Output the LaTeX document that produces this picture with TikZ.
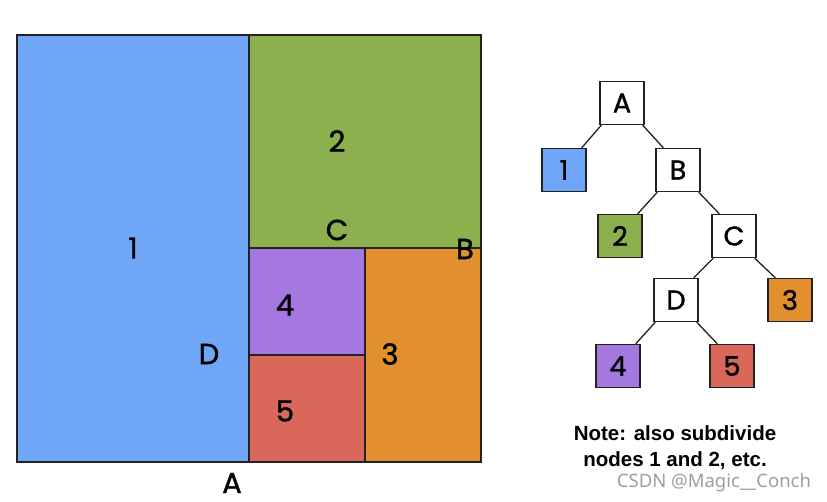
\documentclass[tikz,border=0pt]{standalone}
\usepackage{fontspec}
\setmainfont{Poppins}
\newfontfamily\lblfont{Poppins}[FakeBold=1.3]
\newfontfamily\notefont{Liberation Sans}
\newfontfamily\wmfont{Noto Sans}
\definecolor{cblue}{HTML}{6FA6F8}
\definecolor{cgreen}{HTML}{8BB04D}
\definecolor{cpurple}{HTML}{A577E0}
\definecolor{cred}{HTML}{D9675A}
\definecolor{corange}{HTML}{E2902E}
\definecolor{cline}{HTML}{222222}
\begin{document}
\begin{tikzpicture}[x=1pt,y=-1pt,
  region/.style={draw=cline,line width=1.3pt},
  lbl/.style={font=\lblfont\fontsize{29}{32}\selectfont,text=black,inner sep=0pt},
  tnode/.style={draw=cline,line width=1.3pt,minimum width=44pt,minimum height=43pt,inner sep=0pt,font=\lblfont\fontsize{27}{30}\selectfont},
  tedge/.style={draw=cline,line width=1.3pt}]
\useasboundingbox[fill=white] (0,0) rectangle (827,502);
% regions
\fill[cblue] (17,35) rectangle (249,462);
\fill[cgreen] (249,35) rectangle (481,248);
\fill[cpurple] (249,248) rectangle (365,355);
\fill[cred] (249,355) rectangle (365,462);
\fill[corange] (365,248) rectangle (481,462);
\draw[region] (17,35) rectangle (481,462);
\draw[region] (249,35) -- (249,462);
\draw[region] (249,248) -- (481,248);
\draw[region] (365,248) -- (365,462);
\draw[region] (249,355) -- (365,355);
% region labels
\node[lbl] (l1) at (133,248) {1};
\node[lbl] (l2) at (337,141) {2};
\node[lbl] (lC) at (337,230) {C};
\node[lbl] (lB) at (465,249) {B};
\node[lbl] (l4) at (285,305) {4};
\node[lbl] (lD) at (209,354) {D};
\node[lbl] (l3) at (390,354) {3};
\node[lbl] (l5) at (285,411) {5};
\node[lbl] (lA) at (232,483) {A};
% tree
\node[tnode,fill=white] (tA) at (622,103) {A};
\node[tnode,fill=cblue] (t1) at (564,170) {1};
\node[tnode,fill=white] (tB) at (678,170) {B};
\node[tnode,fill=cgreen] (t2) at (620,236) {2};
\node[tnode,fill=white] (tC) at (734,236) {C};
\node[tnode,fill=white] (tD) at (676,300) {D};
\node[tnode,fill=corange] (t3) at (790,300) {3};
\node[tnode,fill=cpurple] (t4) at (618,366) {4};
\node[tnode,fill=cred] (t5) at (732,366) {5};
\draw[tedge] ([xshift=2pt]tA.south west) -- ([xshift=-5pt]t1.north east);
\draw[tedge] ([xshift=-2pt]tA.south east) -- ([xshift=8pt]tB.north west);
\draw[tedge] ([xshift=2pt]tB.south west) -- ([xshift=-5pt]t2.north east);
\draw[tedge] ([xshift=-2pt]tB.south east) -- ([xshift=8pt]tC.north west);
\draw[tedge] ([xshift=2pt]tC.south west) -- ([xshift=-5pt]tD.north east);
\draw[tedge] ([xshift=-2pt]tC.south east) -- ([xshift=8pt]t3.north west);
\draw[tedge] ([xshift=2pt]tD.south west) -- ([xshift=-5pt]t4.north east);
\draw[tedge] ([xshift=-2pt]tD.south east) -- ([xshift=8pt]t5.north west);
% note
\node[font=\notefont\bfseries\fontsize{20.5}{26}\selectfont,align=center,inner sep=0pt] (note) at (675,448) {Note: also subdivide\\nodes 1 and 2, etc.};
\node[font=\wmfont\fontsize{18.5}{20}\selectfont,text=gray!75,inner sep=0pt] (wm) at (714,483) {CSDN @Magic\_\_Conch};
\end{tikzpicture}
\end{document}
